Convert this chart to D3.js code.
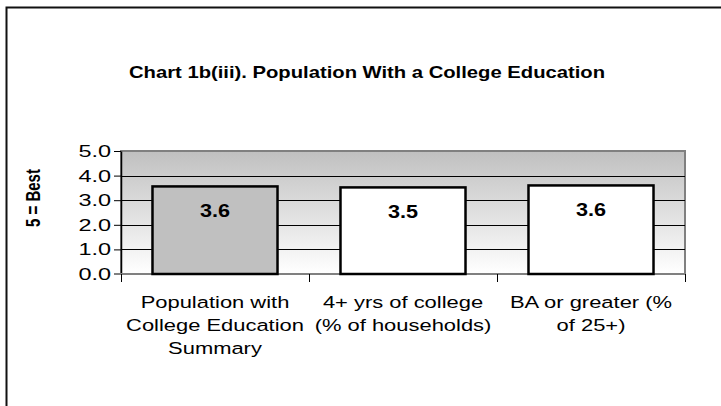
<!DOCTYPE html>
<html>
<head>
<meta charset="utf-8">
<script src="https://cdn.jsdelivr.net/npm/d3@7"></script>
<style>
  body { margin: 0; background: #fff; }
  svg { display: block; font-family: "Liberation Sans", Arial, sans-serif; }
</style>
</head>
<body>
<div id="chart"></div>
<script>
var categories = [
  ["Population with", "College Education", "Summary"],
  ["4+ yrs of college", "(% of households)"],
  ["BA or greater (%", "of 25+)"]
];
var values = [3.56, 3.52, 3.60];
var barFills = ["#c0c0c0", "#ffffff", "#ffffff"];
var yTicks = [0, 1, 2, 3, 4, 5];
var title = "Chart 1b(iii). Population With a College Education";
var yTitle = "5 = Best";

var width = 721, height = 406;
var plotLeft = 121, plotRight = 685, plotTop = 151, plotBottom = 274;

var svg = d3.select("#chart").append("svg")
  .attr("width", width)
  .attr("height", height);

// text in the reference is a little wider than it is tall
function stretched(sel, x, y, sx) {
  return sel.append("text")
    .attr("transform", "translate(" + x + "," + y + ") scale(" + sx + ",1)");
}

// outer frame (cut off on the right and bottom)
svg.append("rect")
  .attr("x", 6.5).attr("y", 7.5)
  .attr("width", 760).attr("height", 460)
  .attr("fill", "none")
  .attr("stroke", "#111")
  .attr("stroke-width", 2);

stretched(svg, 367, 78, 1.19)
  .attr("text-anchor", "middle")
  .attr("font-size", 17).attr("font-weight", "bold")
  .text(title);

var y = d3.scaleLinear().domain([0, 5]).range([plotBottom, plotTop]);
var x = d3.scaleBand()
  .domain(d3.range(values.length))
  .range([plotLeft, plotRight])
  .paddingInner(0.335)
  .paddingOuter(0.1675);

var grad = svg.append("defs").append("linearGradient")
  .attr("id", "bg").attr("x1", 0).attr("y1", 0).attr("x2", 0).attr("y2", 1);
grad.append("stop").attr("offset", "0%").attr("stop-color", "#c0c0c0");
grad.append("stop").attr("offset", "100%").attr("stop-color", "#ffffff");

svg.append("rect")
  .attr("x", plotLeft).attr("y", plotTop)
  .attr("width", plotRight - plotLeft).attr("height", plotBottom - plotTop)
  .attr("fill", "url(#bg)")
  .attr("stroke", "#808080")
  .attr("stroke-width", 2);

// gridlines
svg.append("g").selectAll("line")
  .data(yTicks.filter(function(d) { return d > 0 && d < 5; }))
  .enter().append("line")
  .attr("x1", plotLeft).attr("x2", plotRight)
  .attr("y1", function(d) { return Math.round(y(d)) + 0.5; })
  .attr("y2", function(d) { return Math.round(y(d)) + 0.5; })
  .attr("stroke", "#000");

// y axis
var sxTick = 1.38;
var yAxis = d3.axisLeft(y)
  .tickValues(yTicks)
  .tickFormat(d3.format(".1f"))
  .tickSizeInner(7).tickSizeOuter(0).tickPadding(4);
var gy = svg.append("g")
  .attr("transform", "translate(" + plotLeft + ",0)")
  .call(yAxis);
gy.select(".domain").attr("stroke", "#000").attr("stroke-width", 1.5);
gy.selectAll(".tick line").attr("stroke", "#000");
gy.selectAll(".tick text")
  .attr("font-size", 17).attr("fill", "#000")
  .attr("font-family", "Liberation Sans, Arial, sans-serif")
  .attr("x", -10 / sxTick)
  .attr("transform", "scale(" + sxTick + ",1)");

// x axis category boundaries
var bounds = d3.range(values.length + 1).map(function(i) {
  return plotLeft + i * x.step();
});
svg.append("line")
  .attr("x1", plotLeft - 7).attr("x2", plotRight)
  .attr("y1", plotBottom).attr("y2", plotBottom)
  .attr("stroke", "#808080").attr("stroke-width", 2);
svg.append("g").selectAll("line")
  .data(bounds)
  .enter().append("line")
  .attr("x1", function(d) { return Math.round(d) + 0.5; })
  .attr("x2", function(d) { return Math.round(d) + 0.5; })
  .attr("y1", plotBottom).attr("y2", plotBottom + 8)
  .attr("stroke", "#000");

// bars
svg.append("g").selectAll("rect")
  .data(values)
  .enter().append("rect")
  .attr("x", function(d, i) { return x(i); })
  .attr("y", function(d) { return y(d); })
  .attr("width", x.bandwidth())
  .attr("height", function(d) { return y(0) - y(d); })
  .attr("fill", function(d, i) { return barFills[i]; })
  .attr("stroke", "#000")
  .attr("stroke-width", 2.5);

// value labels
var gv = svg.append("g");
values.forEach(function(d, i) {
  stretched(gv, x(i) + x.bandwidth() / 2, y(d) + 30.5, 1.2)
    .attr("text-anchor", "middle")
    .attr("font-size", 18).attr("font-weight", "bold")
    .text(d.toFixed(1));
});

// category labels
var gc = svg.append("g");
categories.forEach(function(lines, i) {
  var t = stretched(gc, x(i) + x.bandwidth() / 2, 308, 1.29)
    .attr("text-anchor", "middle")
    .attr("font-size", 17);
  t.selectAll("tspan")
    .data(lines)
    .enter().append("tspan")
    .attr("x", 0)
    .attr("dy", function(d, j) { return j === 0 ? 0 : 23; })
    .text(function(d) { return d; });
});

// y axis title (glyphs stretched across, like the rest of the text)
svg.append("text")
  .attr("transform", "translate(40,198) rotate(-90) scale(1,1.3)")
  .attr("text-anchor", "middle")
  .attr("font-size", 15).attr("font-weight", "bold")
  .text(yTitle);
</script>
</body>
</html>
